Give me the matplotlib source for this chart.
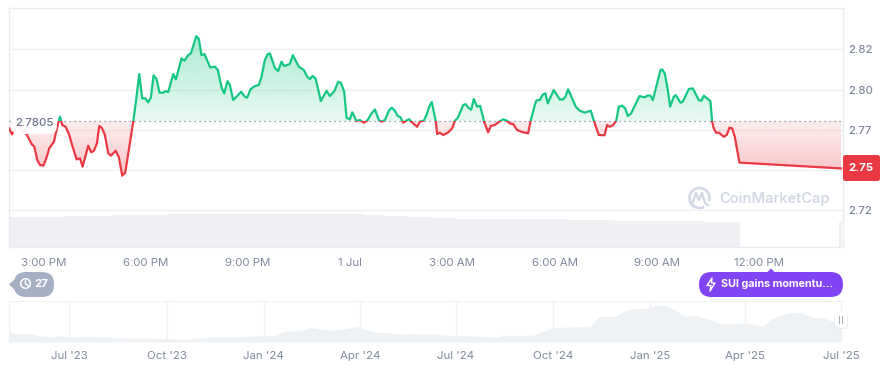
import numpy as np
import matplotlib
matplotlib.use("Agg")
import matplotlib.pyplot as plt
from matplotlib.patches import Rectangle, FancyBboxPatch, Polygon, Circle, Arc
from matplotlib.path import Path

plt.rcParams['font.family'] = ['Inter', 'DejaVu Sans']

# minutes after 3:00 PM
minutes = [-60.8,-55.5,-50.2,-44.3,-37.9,-29.7,-20.9,-16.2,-10.9,-6.2,-0.4,4.3,10.2,18.4,24.3,29,33.1,38.9,44.8,51.3,58.3,64.2,68.9,78.8,84.1,88.8,94.1,98.2,102.9,108.1,114,118.7,126.9,132.8,138.6,143.9,149.2,158,162.7,168.6,173.8,179.1,184.4,189.1,193.8,199,204.3,210.8,214.9,219.6,228.4,233.1,243,248.3,254.8,259.5,268.9,273.5,278.2,283.5,293.5,301.7,307,313.4,318.1,324,328.1,333.9,339.8,348,354.5,358.6,364.4,372,379.1,383.8,389.7,394.4,398.5,407.3,413.1,419,423.7,433.6,438.9,449.5,
458.4,464.3,469,473.7,479,488.3,498.3,504.2,512.4,518.8,523.5,529.4,533.5,539.4,543.5,551.1,557,564,569.9,577.5,583.4,590.4,595.1,601,608.6,613.3,618.5,623.2,628.5,633.2,643.2,650.8,657.8,662.5,669.6,674.3,679,683.6,690.7,693,697.7,703.6,712.4,719.4,724.1,730,738.8,742.9,748.8,752.9,757.5,763.4,768.7,775.7,782.8,787.5,794.5,803.3,809.2,815,820.9,826.8,833.8,843.2,853.2,857.3,864.9,867.8,873.7,879.5,883.6,887.8,898.3,908.9,914.7,918.8,923.5,929.4,937,944,952.9,963.4,970.5,977.5,
987.6,992.3,996.4,1002.3,1008.2,1012.8,1018.7,1024,1028.7,1034.5,1049.2,1058,1063.9,1068.6,1072.7,1086.2,1089.1,1093.8,1099.1,1103.2,1109.6,1113.1,1121.3,1125.5,1136,1143,1153.6,1158.3,1162.4,1174.1,1177.1,1180,1184.1,1188.8,1197.6,1202.9,1207.6,1212.3,1217,1225.2,1404]
prices = [2.7759,2.7722,2.7759,2.7780,2.7745,2.7722,2.7662,2.7645,2.7562,2.7531,2.7527,2.7566,2.7635,2.7676,2.7769,2.7832,2.7780,2.7769,2.7724,2.7645,2.7566,2.7573,2.7521,2.7651,2.7610,2.7620,2.7666,2.7774,2.7761,2.7718,2.7604,2.7589,2.7620,2.7579,2.7465,2.7483,2.7604,2.7801,2.7925,2.8097,2.7946,2.7946,2.7921,2.7952,2.8089,2.8066,2.7981,2.7981,2.7991,2.7985,2.8097,2.8064,2.8194,2.8180,2.8215,2.8226,2.8333,2.8315,2.8215,2.8221,2.8138,2.8143,2.8122,2.8014,2.7977,2.8053,2.8029,2.7935,2.7956,2.7987,2.7956,2.7950,2.8002,2.8022,2.8029,2.8080,2.8184,2.8219,2.8226,2.8136,2.8116,2.8174,2.8147,2.8159,2.8215,2.8143,
2.8122,2.8080,2.8066,2.8085,2.8070,2.7929,2.7993,2.7960,2.7993,2.8049,2.8043,2.7987,2.7825,2.7815,2.7859,2.7805,2.7811,2.7794,2.7807,2.7852,2.7877,2.7811,2.7801,2.7811,2.7873,2.7888,2.7869,2.7838,2.7828,2.7794,2.7817,2.7790,2.7769,2.7801,2.7807,2.7842,2.7894,2.7923,2.7801,2.7724,2.7732,2.7718,2.7734,2.7759,2.7805,2.7828,2.7904,2.7910,2.7884,2.7875,2.7942,2.7894,2.7900,2.7801,2.7734,2.7774,2.7780,2.7803,2.7815,2.7809,2.7790,2.7786,2.7749,2.7736,2.7728,2.7801,2.7904,2.7933,2.7935,2.7971,2.7977,2.7915,2.7998,2.7939,2.7939,2.7956,2.8002,2.7956,2.7894,2.7869,2.7857,2.7869,2.7790,2.7718,
2.7716,2.7780,2.7769,2.7778,2.7805,2.7894,2.7900,2.7884,2.7836,2.7852,2.7960,2.7952,2.7964,2.7962,2.7935,2.8122,2.8126,2.8101,2.7998,2.7894,2.7956,2.7966,2.7919,2.7925,2.8004,2.8008,2.7935,2.7931,2.7962,2.7929,2.7801,2.7759,2.7732,2.7732,2.7707,2.7718,2.7763,2.7759,2.7707,2.7546,2.7510]
baseline = 2.7805
current_price = "2.75"
y_ticks = [2.725, 2.75, 2.775, 2.80, 2.825]
y_labels = ["2.72", "", "2.77", "2.80", "2.82"]
x_ticks = [0, 180, 360, 540, 720, 900, 1080, 1260]
x_labels = ["3:00 PM", "6:00 PM", "9:00 PM", "1 Jul", "3:00 AM", "6:00 AM", "9:00 AM", "12:00 PM"]

# volume per 20-minute block (px-like relative units), then the final partial bar
volume_blocks = [30,30,30,30.5,30.5,31,31,31.5,31.5,32,32,32,32.5,32.5,33,33.5,33.5,33.5,33.5,33.5,33.5,33.5,33.5,33.5,33.5,33.5,33.5,33.5,33.5,33.5,33.5,
                 32.5,32,31.5,31,30.5,30,29.5,29,28.5,28.5,28.5,28.5,28.5,28.5,28.5,28.5,28.5,28,27.5,27,27,27,26.5,26.5,26.5,26.5,26,26,26,26,25.5,25.5,25.5]
last_volume_minute = 1403
last_volume = 25.5

# overview: days after 1 Jul 2023, relative price level
nav_days = [-57,-50,-42,-31,-18,-9,0,19,38,60,92,111,130,155,177,196,201,218,229,237,250,266,272,278,291,304,313,326,335,345,357,383,405,411,439,451,458,471,493,502,517,529,550,554,567,583,594,618,640,657,665,681,693,706,712,725,731]
nav_vals = [10.7,8.3,9,6.7,5,6.3,5,5.7,4.7,4,3.3,3,4.7,5,6,6.7,10,11.7,14.3,13,11.7,14,15.7,13,9.7,9.3,7.7,8.3,7.7,8.3,6.7,6,4.7,6.7,6.7,11.7,14,15,15.3,25.7,25.7,32.7,34,36.3,36.3,25.7,26.7,18.3,19,16,23.3,29,29.3,24.3,25,20,19]
nav_ticks = [0, 92, 184, 275, 366, 458, 550, 640, 731]
nav_labels = ["Jul '23", "Oct '23", "Jan '24", "Apr '24", "Jul '24", "Oct '24", "Jan '25", "Apr '25", "Jul '25"]

GREEN = "#16c784"; RED = "#ea3943"; GRAY = "#808a9d"; GRID = "#eff1f3"; AREA = "#eff2f5"
FS = 8.25
W, H = 888, 372
fig = plt.figure(figsize=(W/100, H/100), dpi=100, facecolor="white")

def rect(x0, y0, x1, y1):
    return [x0/W, 1-y1/H, (x1-x0)/W, (y1-y0)/H]

X_LIM = (-61.6, 1407.5)
Y_LIM = (2.7021, 2.8508)

# volume axis
vax = fig.add_axes(rect(8.5, 8, 843, 247), zorder=1)
vol_y = np.repeat(volume_blocks, 4)
vol_x = -59.5 + 5.03*np.arange(len(vol_y))
vax.bar(vol_x, vol_y, width=4.9, color="#eef0f3", linewidth=0)
vax.bar([last_volume_minute], [last_volume], width=4.9, color="#eef0f3", linewidth=0)
vax.set_xlim(*X_LIM); vax.set_ylim(0, 239); vax.axis("off")

# price axis
ax = fig.add_axes(rect(8.5, 8, 843, 247), zorder=2)
ax.patch.set_alpha(0)
x = np.array(minutes); y = np.array(prices)

def gradient(rgb, a0, a1, lo, hi):
    n = 128
    img = np.zeros((n, 1, 4))
    img[..., :3] = matplotlib.colors.to_rgb(rgb)
    img[..., 3] = np.linspace(a0, a1, n)[:, None]
    return ax.imshow(img, origin="lower", extent=(x[0], x[-1], lo, hi), aspect="auto", zorder=2, interpolation="bilinear")

poly = Polygon(np.column_stack([np.r_[x[0], x, x[-1]], np.r_[baseline, y, baseline]]), closed=True, transform=ax.transData, fc="none", ec="none")
ax.add_patch(poly)
g = gradient(GREEN, 0.10, 0.36, baseline, y.max())
r = gradient(RED, 0.30, 0.09, y.min(), baseline)
g.set_clip_path(poly); r.set_clip_path(poly)

ax.set_xlim(*X_LIM); ax.set_ylim(*Y_LIM)
for v in y_ticks:
    ax.axhline(v, color="#f0f1f3", lw=1, zorder=1)
ax.axhline(baseline, color="#7f8793", lw=0.9, ls=(0, (1, 3)), zorder=3)

lg, = ax.plot(x, y, color=GREEN, lw=1.6, zorder=4, solid_joinstyle="round")
lr, = ax.plot(x, y, color=RED, lw=1.6, zorder=4, solid_joinstyle="round")
lg.set_clip_path(Rectangle((X_LIM[0], baseline), X_LIM[1]-X_LIM[0], Y_LIM[1]-baseline, transform=ax.transData))
lr.set_clip_path(Rectangle((X_LIM[0], Y_LIM[0]), X_LIM[1]-X_LIM[0], baseline-Y_LIM[0], transform=ax.transData))

ax.set_xticks(x_ticks, x_labels)
ax.set_yticks(y_ticks, y_labels)
ax.yaxis.tick_right()
ax.tick_params(axis="x", length=0, pad=8, labelsize=FS, labelcolor=GRAY)
ax.tick_params(axis="y", length=0, pad=4, labelsize=FS, labelcolor=GRAY)
for t in ax.get_yticklabels():
    t.set_fontweight("medium")
for s in ["top", "left", "right", "bottom"]:
    ax.spines[s].set_color("#eaecef"); ax.spines[s].set_linewidth(1)

# overview axis
nax = fig.add_axes(rect(8.5, 301, 843, 342), zorder=2)
nd = np.array(nav_days)
nax.fill_between(nd, nav_vals, 0, color=AREA, linewidth=0, zorder=1)
nax.set_xlim(-57.8, 733); nax.set_ylim(0, 41)
nax.set_xticks(nav_ticks, nav_labels)
nax.set_yticks([])
nax.grid(axis="x", color="#f0f1f3", lw=1, zorder=2)
nax.set_axisbelow(False)
nax.tick_params(axis="x", length=0, pad=6.5, labelsize=FS, labelcolor=GRAY)
for s in ["left", "right", "bottom"]:
    nax.spines[s].set_visible(False)
nax.spines["top"].set_color("#f0f1f3")
nax.spines["left"].set_visible(True); nax.spines["left"].set_color("#f0f1f3")

# overlay in pixel space: labels, pills, watermark
ov = fig.add_axes([0, 0, 1, 1], zorder=5)
ov.set_xlim(0, W); ov.set_ylim(H, 0); ov.axis("off"); ov.patch.set_alpha(0)

def pill(x0, y0, x1, y1, rad, **kw):
    p = FancyBboxPatch((x0+rad, y0+rad), x1-x0-2*rad, y1-y0-2*rad,
                       boxstyle=f"round,pad={rad},rounding_size={rad}", linewidth=0, **kw)
    ov.add_patch(p); return p

# start-price label
pill(11, 114, 57, 134, 8, fc="white", alpha=0.93)
ov.text(34, 123.5, f"{baseline:.4f}", ha="center", va="center", fontsize=FS, color="#6b7790", fontweight="medium")

# current price tag
pill(843, 155, 880, 181, 2.5, fc=RED)
ov.text(860.5, 168.3, current_price, ha="center", va="center", fontsize=FS, color="white", fontweight="bold")

# watermark
WM = "#d3d9e4"
ov.add_patch(Arc((699.5, 198), 20, 20, theta1=0, theta2=360, ec=WM, lw=1.9))
ov.add_patch(Rectangle((704, 201), 9, 9, fc="white", ec="none"))
ov.plot([692, 696, 699, 702, 705, 708], [204, 193, 200, 193, 203, 205], color=WM, lw=1.7, solid_joinstyle="round")
ov.text(719.5, 199, "CoinMarketCap", ha="left", va="center", fontsize=10.5, color=WM, fontweight="semibold")

# history pill
HP = "#a6b0c3"
pill(14, 272, 54, 297, 12, fc=HP)
ov.add_patch(Polygon([[9, 284.5], [17, 277], [17, 292]], closed=True, fc=HP, ec="none"))
ov.add_patch(Arc((25.5, 283.5), 9.5, 9.5, theta1=-220, theta2=140, ec="white", lw=1.1))
ov.plot([25.5, 25.5, 28], [281, 284, 285.5], color="white", lw=1)
ov.text(41.5, 284, "27", ha="center", va="center", fontsize=FS, color="white", fontweight="bold")

# news pill
PP = "#8044f4"
pill(699, 272, 843, 297, 12.5, fc=PP)
ov.add_patch(Polygon([[767, 272.5], [771, 268.5], [775, 272.5]], closed=True, fc=PP, ec="none"))
ov.add_patch(Polygon([[712, 278], [707, 285.5], [711, 285.5], [710, 291], [715, 283], [711.5, 283]], closed=True, fc="none", ec="white", lw=1, joinstyle="round"))
ov.text(721, 284.2, "SUI gains momentu...", ha="left", va="center", fontsize=7.75, color="white", fontweight="bold")

# range handle
pill(834, 312, 848, 329, 5, fc="#dfe2e6", alpha=0.6)
pill(835, 311, 847, 328, 5, fc="white")
ov.plot([838.8, 838.8], [316, 323], color="#a6b0c3", lw=0.8)
ov.plot([842.2, 842.2], [316, 323], color="#a6b0c3", lw=0.8)

fig.savefig("out.png", dpi=100, facecolor="white")
